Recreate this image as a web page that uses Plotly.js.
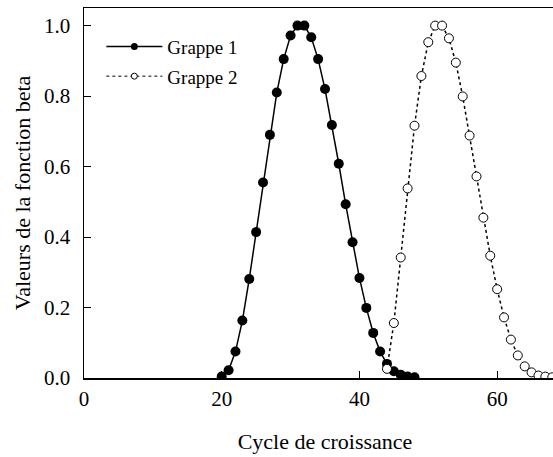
<!DOCTYPE html>
<html>
<head>
<meta charset="utf-8">
<script src="https://cdn.plot.ly/plotly-3.0.1.min.js"></script>
<style>html,body{margin:0;padding:0;overflow:hidden;background:#fff;}</style>
</head>
<body>
<div id="chart"></div>
<script>
const cycles1 = [20,21,22,23,24,25,26,27,28,29,30,31,32,33,34,35,36,37,38,39,40,41,42,43,44,45,46,47,48];
const grappe1 = [0.004,0.022,0.075,0.163,0.281,0.414,0.555,0.69,0.81,0.905,0.972,1.0,1.0,0.967,0.905,0.82,0.718,0.608,0.493,0.385,0.284,0.199,0.128,0.075,0.04,0.019,0.009,0.004,0.002];
const cycles2 = [44,45,46,47,48,49,50,51,52,53,54,55,56,57,58,59,60,61,62,63,64,65,66,67,68];
const grappe2 = [0.026,0.156,0.342,0.538,0.716,0.857,0.953,1.0,1.0,0.964,0.895,0.799,0.688,0.572,0.455,0.347,0.252,0.172,0.109,0.064,0.033,0.016,0.007,0.004,0.002];
const seriesNames = ['Grappe 1', 'Grappe 2'];
const xTicks = [0,20,40,60];
const yTicks = [0.0,0.2,0.4,0.6,0.8,1.0];
const yTickText = ['0.0','0.2','0.4','0.6','0.8','1.0'];

const font = '"Liberation Serif", "Times New Roman", serif';

const line1 = {color: '#000', width: 1.5, dash: 'solid'};
const line2 = {color: '#000', width: 1.5, dash: 'dot'};

const traces = [
  {x: cycles1, y: grappe1, name: seriesNames[0], mode: 'lines+markers', type: 'scatter',
   line: line1, marker: {symbol: 'circle', size: 10, color: '#000'}, showlegend: false},
  {x: cycles2, y: grappe2, name: seriesNames[1], mode: 'lines+markers', type: 'scatter',
   line: line2, marker: {symbol: 'circle', size: 9, color: '#fff', line: {color: '#000', width: 1}}, showlegend: false},
  // legend entries with smaller symbols
  {x: [null], y: [null], name: seriesNames[0], mode: 'lines+markers', type: 'scatter', legendgroup: 'a',
   line: line1, marker: {symbol: 'circle', size: 7, color: '#000'}},
  {x: [null], y: [null], name: seriesNames[1], mode: 'lines+markers', type: 'scatter', legendgroup: 'b',
   line: {color: '#000', width: 1, dash: 'dot'}, marker: {symbol: 'circle', size: 6, color: '#fff', line: {color: '#000', width: 1}}}
];

const layout = {
  width: 566, height: 457,
  margin: {l: 84, r: 0, t: 8, b: 79},
  paper_bgcolor: '#fff', plot_bgcolor: '#fff',
  font: {family: font, color: '#000', size: 21},
  showlegend: true,
  legend: {x: 0.036, y: 0.947, xanchor: 'left', yanchor: 'top', bgcolor: 'rgba(0,0,0,0)',
           font: {family: font, size: 19, color: '#000'}, itemwidth: 56,
           traceorder: 'grouped', tracegroupgap: 2},
  xaxis: {range: [0, 70], tickvals: xTicks, ticktext: xTicks.map(String),
          showgrid: false, zeroline: false, showline: true, linecolor: '#000', linewidth: 1.5,
          mirror: true, ticks: 'inside', ticklen: 7, tickcolor: '#000', tickwidth: 1,
          ticklabelstandoff: 1, tickfont: {family: font, size: 21, color: '#000'},
          title: {text: 'Cycle de croissance', font: {family: font, size: 22, color: '#000'}, standoff: 24}},
  yaxis: {range: [0, 1.05], tickvals: yTicks, ticktext: yTickText,
          showgrid: false, zeroline: false, showline: true, linecolor: '#000', linewidth: 1.5,
          ticks: 'inside', ticklen: 7, tickcolor: '#000', tickwidth: 1,
          ticklabelstandoff: 8, tickfont: {family: font, size: 21, color: '#000'},
          title: {text: 'Valeurs de la fonction beta', font: {family: font, size: 22, color: '#000'}, standoff: 7}}
};

Plotly.newPlot('chart', traces, layout, {displayModeBar: false, staticPlot: true});
</script>
</body>
</html>
